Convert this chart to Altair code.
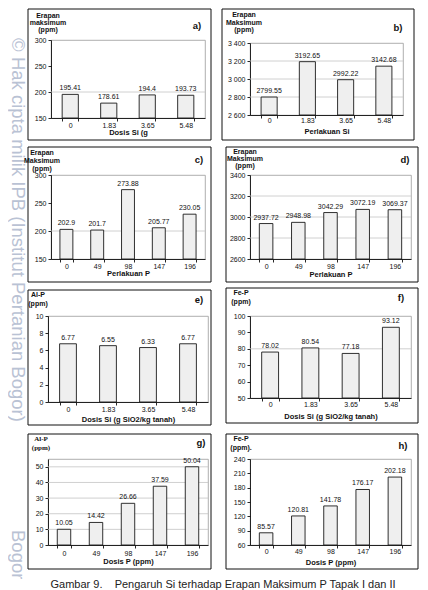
import altair as alt
import pandas as pd

FONT = "Liberation Sans"
SERIF = "Liberation Serif"

# ---------------- data ----------------
si_levels = ["0", "1.83", "3.65", "5.48"]
p_levels = ["0", "49", "98", "147", "196"]

erapan_si_t1 = [195.41, 178.61, 194.4, 193.73]
erapan_si_t2 = [2799.55, 3192.65, 2992.22, 3142.68]
erapan_p_t1 = [202.9, 201.7, 273.88, 205.77, 230.05]
erapan_p_t2 = [2937.72, 2948.98, 3042.29, 3072.19, 3069.37]
alp_si = [6.77, 6.55, 6.33, 6.77]
fep_si = [78.02, 80.54, 77.18, 93.12]
alp_p = [10.05, 14.42, 26.66, 37.59, 50.04]
fep_p = [85.57, 120.81, 141.78, 176.17, 202.18]

dom_a, ticks_a, grid_a = [150, 300], [150, 200, 250, 300], [200]
dom_b, ticks_b, grid_b = [2600, 3400], [2600, 2800, 3000, 3200, 3400], [2800, 3000, 3200]
dom_c, ticks_c, grid_c = [150, 300], [150, 200, 250, 300], [200]
dom_d, ticks_d, grid_d = [2600, 3400], [2600, 2800, 3000, 3200, 3400], [2800, 3000, 3200]
dom_e, ticks_e, grid_e = [0, 10], [0, 2, 4, 6, 8, 10], []
dom_f, ticks_f, grid_f = [50, 100], [50, 60, 70, 80, 90, 100], [80]
dom_g, ticks_g, grid_g = [0, 55], [0, 10, 20, 30, 40, 50], [10, 20, 30, 40, 50]
dom_h, ticks_h, grid_h = [60, 240], [60, 90, 120, 150, 180, 210, 240], []

caption = "Gambar 9.\u00a0\u00a0\u00a0 Pengaruh Si terhadap Erapan Maksimum P Tapak I dan II"
wm1 = "\u00a9 Hak cipta milik IPB (Institut Pertanian Bogor)"
wm2 = "Bogor Agricultural University"


def panel(cats, vals, ydom, yticks, grid, w, h, xtitle, tlines, tpos, lh,
          letter, lpos, frame, lp, tp, tfont=FONT, thousands=False, extra=()):
    df = pd.DataFrame({"cat": cats, "val": vals, "lab": [str(v) for v in vals]})
    one = pd.DataFrame({"k": [0]})
    ykw = dict(values=yticks, grid=False, title=None, labelPadding=2, tickSize=3, format="d")
    if thousands:
        ykw["labelExpr"] = "replace(format(datum.value, ','), ',', ' ')"
    y = alt.Y("val:Q", scale=alt.Scale(domain=ydom, nice=False, zero=False),
              axis=alt.Axis(**ykw))
    x = alt.X("cat:N", sort=cats, title=xtitle,
              scale=alt.Scale(paddingInner=0.58, paddingOuter=0.29),
              axis=alt.Axis(labelAngle=0, tickBand="extent", tickSize=3,
                            labelPadding=lp, titlePadding=tp, grid=False))
    layers = []
    if grid:
        gdf = pd.DataFrame({"val": grid})
        layers.append(alt.Chart(gdf).mark_rule(color="#c4c4c4", strokeWidth=0.8).encode(y=y))
    layers.append(alt.Chart(df).mark_bar(fill="#efefef", stroke="#1a1a1a", strokeWidth=0.9)
                  .encode(x=x, y=y, y2=alt.datum(ydom[0])))
    layers.append(alt.Chart(df).mark_text(baseline="bottom", dy=-3, fontSize=7, font=FONT,
                                          color="#111").encode(x=x, y=y, text="lab:N"))
    fx1, fy1, fx2, fy2 = frame
    layers.append(alt.Chart(one).mark_rect(fillOpacity=0, stroke="#111", strokeWidth=1)
                  .encode(x=alt.value(fx1), x2=alt.value(fx2), y=alt.value(fy1), y2=alt.value(fy2)))
    layers.append(alt.Chart(one).mark_text(text=tlines, font=tfont, fontSize=7, fontWeight="bold",
                                           lineHeight=lh, align="center", baseline="top", color="#111")
                  .encode(x=alt.value(tpos[0]), y=alt.value(tpos[1])))
    layers.append(alt.Chart(one).mark_text(text=letter, font=FONT, fontSize=9.5, fontWeight="bold",
                                           align="center", baseline="middle", color="#111")
                  .encode(x=alt.value(lpos[0]), y=alt.value(lpos[1])))
    layers.extend(extra)
    return alt.layer(*layers).properties(width=w, height=h)


one_df = pd.DataFrame({"k": [0]})
watermark = [
    alt.Chart(one_df).mark_text(text=wm1, font=FONT, fontSize=18.5, angle=90, align="center",
                                baseline="middle", color="#b9c2d4")
    .encode(x=alt.value(-33), y=alt.value(190)),
    alt.Chart(one_df).mark_text(text=wm2, font=FONT, fontSize=18.5, angle=90, align="left",
                                baseline="middle", color="#b9c2d4", limit=62, ellipsis="\u200b")
    .encode(x=alt.value(-33), y=alt.value(490)),
]
cap = [
    alt.Chart(one_df).mark_text(text=caption, font=FONT, fontSize=11, align="center",
                                baseline="middle", color="#222")
    .encode(x=alt.value(175), y=alt.value(126)),
]

pa = panel(si_levels, erapan_si_t1, dom_a, ticks_a, grid_a, 154, 78, "Dosis Si (g",
           ["Erapan", "maksimum", "(ppm)"], (-3, -28.5), 7, "a)", (146, -14),
           (-23, -31, 160, 100), 0, 0.5, extra=watermark)
pb = panel(si_levels, erapan_si_t2, dom_b, ticks_b, grid_b, 153, 72, "Perlakuan Si",
           ["Erapan", "Maksimum", "(ppm)"], (-6, -32), 7.5, "b)", (148, -15),
           (-28, -34, 164, 97), -2, 4.5, thousands=True)
pc = panel(p_levels, erapan_p_t1, dom_c, ticks_c, grid_c, 154, 84, "Perlakuan P",
           ["Erapan", "Maksimum", "(ppm)"], (-9, -26), 8, "c)", (148, -15),
           (-23, -28, 160, 107), 0, 0.5)
pd_ = panel(p_levels, erapan_p_t2, dom_d, ticks_d, grid_d, 161, 84, "Perlakuan P",
            ["Erapan", "Maksimum", "(ppm)"], (-5, -27), 7, "d)", (155, -15),
            (-24, -28, 168, 107), 0, 1)
pe = panel(si_levels, alp_si, dom_e, ticks_e, grid_e, 160, 86, "Dosis Si (g SiO2/kg tanah)",
           ["Al-P", "(ppm)"], (-10, -25), 9, "e)", (151, -16),
           (-20, -26, 163, 109), 0.5, 2.5)
pf = panel(si_levels, fep_si, dom_f, ticks_f, grid_f, 161, 82, "Dosis Si (g SiO2/kg tanah)",
           ["Fe-P", "(ppm)"], (-9, -27), 9, "f)", (151, -18),
           (-24, -28, 168, 107), -1, 5)
pg = panel(p_levels, alp_p, dom_g, ticks_g, grid_g, 160, 86, "Dosis P (ppm)",
           ["Al-P", "(ppm)"], (-7, -24), 9, "g)", (153, -16),
           (-20, -25, 163, 110), 1.5, 0.5, tfont=SERIF, extra=cap)
ph = panel(p_levels, fep_p, dom_h, ticks_h, grid_h, 161, 86, "Dosis P (ppm)",
           ["Fe-P", "(ppm)."], (-9, -24), 9, "h)", (153, -13),
           (-24, -25, 168, 110), -0.5, 3.5)

chart = (
    alt.concat(pa, pb, pc, pd_, pe, pf, pg, ph, columns=2,
               spacing={"row": 57, "column": 42}, bounds="flush", align="each", center=True)
    .resolve_scale(x="independent", y="independent")
    .properties(padding={"left": 0, "top": 0, "right": 0, "bottom": 0}, background="white")
    .configure_view(stroke="#9a9a9a", strokeWidth=0.8)
    .configure_axis(labelFont=FONT, labelFontSize=7, labelColor="#111",
                    titleFont=FONT, titleFontSize=7.5, titleFontWeight="bold", titleColor="#111",
                    domainColor="#111", tickColor="#111", domainWidth=0.9, tickWidth=0.9)
)

chart.save("out.html", embed_options={"renderer": "svg", "actions": False})
